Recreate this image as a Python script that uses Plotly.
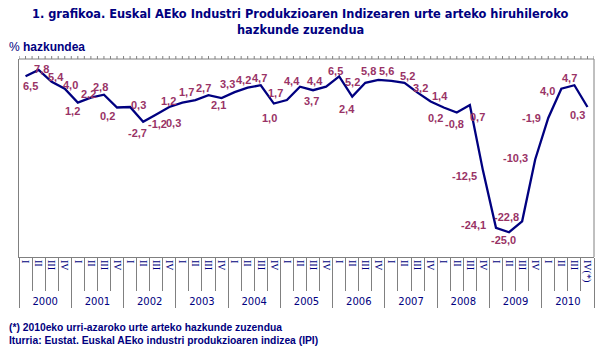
import plotly.graph_objects as go

# ---------------- data ----------------
years = ["2000", "2001", "2002", "2003", "2004", "2005", "2006", "2007", "2008", "2009", "2010"]
quarters = ["I", "II", "III", "IV"] * 10 + ["I", "II", "III", "IV(*)"]
values = [6.5, 7.8, 5.4, 4.0,
          1.2, 2.2, 2.8, 0.2,
          0.3, -2.7, -1.2, 0.3,
          1.2, 1.7, 2.7, 2.1,
          3.3, 4.2, 4.7, 1.0,
          1.7, 4.4, 3.7, 4.4,
          6.5, 2.4, 5.2, 5.8,
          5.6, 5.2, 3.2, 1.4,
          0.2, -0.8, 0.7, -12.5,
          -24.1, -25.0, -22.8, -10.3,
          -1.9, 4.0, 4.7, 0.3]
value_labels = [f"{v:.1f}".replace(".", ",") for v in values]
title_lines = ["1. grafikoa. Euskal AEko Industri Produkzioaren Indizearen urte arteko hiruhileroko",
               "hazkunde zuzendua"]
y_title = "hazkundea"
notes = ["(*) 2010eko urri-azaroko urte arteko hazkunde zuzendua",
         "Iturria: Eustat. Euskal AEko industri produkzioaren indizea (IPI)"]

# label offsets in pixels (dx right, dy down) relative to each point
label_dx = [5, 3, 4, 6, -5, -2, -3, -10, 8, -6, 1, 4,
            -14, -9, -5, -3, -7, -4, -1, -4, -11, -8, -2, -11,
            -4, -5, -13, -10, -5, 3, 3, 9, -8, -2, 8, -18,
            -22, -6, -16, -20, -17, -14, -5, -10]
label_dy = [10, -1, -5, -4, 8, -4, -8, 8, -2, 11, 10, 16,
            -2, -8, -7, 7, -8, -8, -7, 14, -7, -6, 11, -6,
            -5, 12, -1, -9, -10, -7, -5, -6, 10, 12, 12, 6,
            -3, 8, -4, -1, 0, 2, -7, 8]

idx = list(range(len(values)))
n = len(values)
boundaries = [i - 0.5 for i in range(n + 1)]
year_bounds = [i * 4 - 0.5 for i in range(len(years) + 1)]
year_centers = [i * 4 + 1.5 for i in range(len(years))]
half_ticks = [i * 0.5 - 0.5 for i in range(2 * n + 1)]

NAVY = "#000080"
LABEL = "#993366"
GRAY = "#808080"
XR = [-0.5, n - 0.5]

# plot area geometry (px)
L, R, T, B = 19, 6, 59, 101
W, H = 600, 358
PW, PH = W - L - R, H - T - B


def px_x(x):
    return (x - L) / PW


def px_y(y):
    return (H - B - y) / PH


fig = go.Figure()

fig.add_trace(go.Scatter(
    x=idx, y=values, mode="lines",
    line=dict(color=NAVY, width=2.3),
    xaxis="x", yaxis="y", showlegend=False, hoverinfo="skip"))

# invisible traces so the overlay axes are drawn
for ax in ["x3", "x4", "x5"]:
    fig.add_trace(go.Scatter(x=[0], y=[0], mode="markers", marker=dict(opacity=0),
                             xaxis=ax, yaxis="y", showlegend=False, hoverinfo="skip"))

for i, (v, t) in enumerate(zip(values, value_labels)):
    fig.add_annotation(x=i, y=v, xref="x", yref="y", text=f"<b>{t}</b>",
                       showarrow=False, xanchor="center", yanchor="middle",
                       xshift=label_dx[i], yshift=-label_dy[i],
                       font=dict(family="Liberation Sans", size=11, color=LABEL))

# plot frame (top and right sides) and the small top tick marks
fig.add_shape(type="line", xref="paper", yref="paper", x0=0, x1=1, y0=1, y1=1,
              layer="above", line=dict(color=GRAY, width=1))
fig.add_shape(type="line", xref="paper", yref="paper", x0=1, x1=1, y0=0, y1=1,
              layer="above", line=dict(color=GRAY, width=1))
for t in half_ticks:
    fig.add_shape(type="line", xref="x", yref="paper", x0=t, x1=t,
                  y0=1, y1=1 + 3 / PH, layer="above", line=dict(color=GRAY, width=1))

fig.update_layout(
    width=W, height=H,
    margin=dict(l=L, r=R, t=T, b=B),
    paper_bgcolor="white", plot_bgcolor="white",
    xaxis=dict(range=XR, tickmode="array", tickvals=idx, ticktext=quarters,
               tickangle=90, ticks="", showline=True, linecolor=GRAY, linewidth=1,
               showgrid=False, zeroline=False,
               tickfont=dict(family="Liberation Serif", size=10, color=NAVY)),
    xaxis3=dict(range=XR, overlaying="x", anchor="y", side="bottom",
                tickmode="array", tickvals=boundaries, ticks="outside", ticklen=33,
                tickcolor=GRAY, showticklabels=False, showline=False,
                showgrid=False, zeroline=False),
    xaxis4=dict(range=XR, overlaying="x", anchor="y", side="bottom",
                tickmode="array", tickvals=year_bounds, ticks="outside", ticklen=50,
                tickcolor=GRAY, showticklabels=False, showline=False,
                showgrid=False, zeroline=False),
    xaxis5=dict(range=XR, overlaying="x", anchor="y", side="bottom",
                tickmode="array", tickvals=year_centers, ticktext=years,
                ticks="outside", ticklen=35, tickcolor="rgba(0,0,0,0)",
                showline=False, showgrid=False, zeroline=False, tickangle=0,
                tickfont=dict(family="DejaVu Sans", size=10, color=NAVY)),
    yaxis=dict(range=[-30, 10], showline=True, linecolor=GRAY, linewidth=1,
               showgrid=False, zeroline=False, showticklabels=False,
               ticks=""),
)

# title (two centred lines)
for line, yc in zip(title_lines, [14, 30]):
    fig.add_annotation(xref="paper", yref="paper", x=px_x(300), y=px_y(yc),
                       xanchor="center", yanchor="middle", showarrow=False,
                       text=f"<b>{line}</b>",
                       font=dict(family="DejaVu Sans", size=11.4, color=NAVY))

fig.add_annotation(xref="paper", yref="paper", x=px_x(7), y=px_y(47),
                   xanchor="left", yanchor="middle", showarrow=False,
                   text=f"% <b>{y_title}</b>",
                   font=dict(family="Liberation Sans", size=12, color=NAVY))
for line, yc in zip(notes, [327.5, 340]):
    fig.add_annotation(xref="paper", yref="paper", x=px_x(7), y=px_y(yc),
                       xanchor="left", yanchor="middle", showarrow=False,
                       text=f"<b>{line}</b>",
                       font=dict(family="Liberation Sans", size=10.3, color=NAVY))

fig.write_html("out.html",
               config={"displayModeBar": False},
               post_script="document.body.style.margin='0';document.body.style.padding='0';")
